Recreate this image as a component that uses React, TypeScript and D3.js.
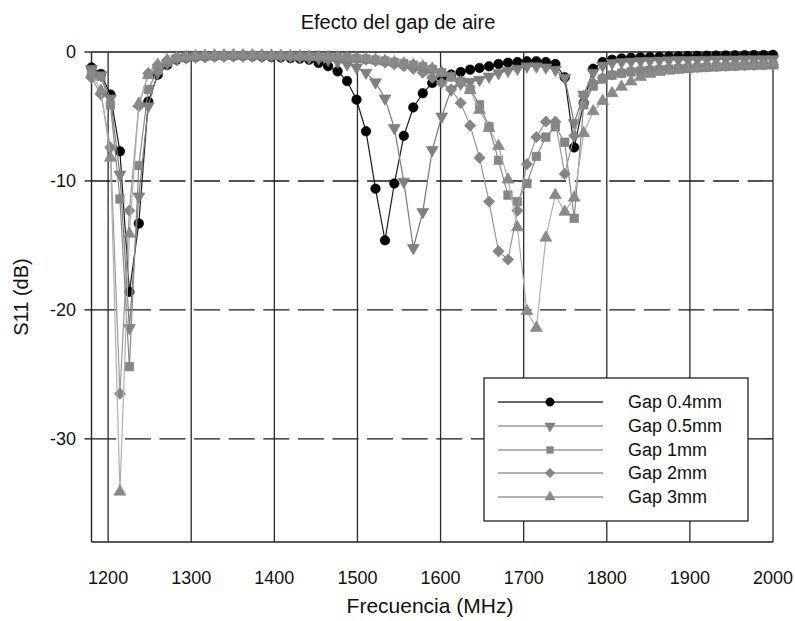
import React from "react";
import * as d3 from "d3";

const freqs = [1180,1191.4,1202.8,1214.2,1225.6,1236.9,1248.3,1259.7,1271.1,1282.5,1293.9,1305.3,1316.7,1328.1,1339.4,1350.8,1362.2,1373.6,1385.0,1396.4,1407.8,1419.2,1430.6,1441.9,1453.3,1464.7,1476.1,1487.5,1498.9,1510.3,1521.7,1533.1,1544.4,1555.8,1567.2,1578.6,1590.0,1601.4,1612.8,1624.2,1635.6,1646.9,1658.3,1669.7,1681.1,1692.5,1703.9,1715.3,1726.7,1738.1,1749.4,1760.8,1772.2,1783.6,1795.0,1806.4,1817.8,1829.2,1840.6,1851.9,1863.3,1874.7,1886.1,1897.5,1908.9,1920.3,1931.7,1943.1,1954.4,1965.8,1977.2,1988.6,2000];

const gap04 = [-1.2,-1.7,-3.3,-7.7,-18.6,-13.3,-3.85,-1.76,-1.0,-0.6,-0.45,-0.38,-0.35,-0.32,-0.3,-0.3,-0.3,-0.32,-0.35,-0.38,-0.42,-0.47,-0.52,-0.6,-0.85,-1.1,-1.5,-2.25,-3.7,-6.15,-10.6,-14.6,-10.2,-6.5,-4.3,-3.2,-2.4,-2.0,-1.75,-1.55,-1.37,-1.24,-1.11,-0.93,-0.83,-0.78,-0.72,-0.72,-0.78,-0.93,-1.96,-7.4,-3.95,-1.3,-0.78,-0.6,-0.5,-0.45,-0.42,-0.4,-0.38,-0.36,-0.34,-0.32,-0.3,-0.29,-0.28,-0.27,-0.26,-0.25,-0.24,-0.23,-0.22];
const gap05 = [-1.3,-1.8,-3.6,-9.5,-21.4,-11.2,-4.2,-1.6,-0.9,-0.55,-0.42,-0.36,-0.33,-0.3,-0.3,-0.28,-0.28,-0.28,-0.3,-0.3,-0.32,-0.35,-0.4,-0.45,-0.5,-0.6,-0.75,-0.95,-1.2,-1.6,-2.35,-3.6,-5.9,-10.05,-15.2,-12.4,-7.6,-5.0,-2.9,-2.45,-2.3,-2.15,-1.9,-1.63,-1.45,-1.29,-1.11,-1.11,-1.19,-1.37,-2.0,-5.5,-3.3,-1.6,-1.05,-0.85,-0.78,-0.74,-0.7,-0.68,-0.66,-0.64,-0.62,-0.61,-0.6,-0.59,-0.58,-0.57,-0.57,-0.56,-0.56,-0.55,-0.55];
const gap1 = [-1.5,-1.9,-4.1,-11.4,-24.4,-8.8,-2.9,-1.4,-0.8,-0.5,-0.4,-0.35,-0.32,-0.3,-0.28,-0.27,-0.27,-0.27,-0.28,-0.29,-0.3,-0.32,-0.34,-0.36,-0.38,-0.4,-0.42,-0.45,-0.5,-0.55,-0.62,-0.7,-0.8,-0.9,-1.02,-1.15,-1.35,-1.6,-1.9,-2.3,-2.9,-4.1,-5.8,-8.4,-11.1,-11.6,-10.2,-8.1,-6.6,-5.8,-7.0,-12.9,-4.1,-2.65,-2.1,-1.8,-1.65,-1.55,-1.48,-1.42,-1.37,-1.33,-1.29,-1.25,-1.21,-1.18,-1.15,-1.12,-1.09,-1.06,-1.04,-1.02,-1.0];
const gap2 = [-2.0,-3.3,-7.4,-26.5,-12.3,-4.2,-1.65,-1.0,-0.65,-0.45,-0.38,-0.33,-0.3,-0.28,-0.27,-0.26,-0.26,-0.26,-0.27,-0.28,-0.3,-0.32,-0.34,-0.36,-0.38,-0.4,-0.42,-0.46,-0.52,-0.6,-0.7,-0.82,-0.95,-1.1,-1.3,-1.6,-2.0,-2.4,-2.9,-3.95,-5.7,-8.2,-11.6,-15.45,-16.1,-12.3,-8.7,-6.6,-5.4,-5.4,-9.45,-6.5,-3.4,-2.4,-2.0,-1.75,-1.6,-1.5,-1.43,-1.37,-1.32,-1.28,-1.24,-1.2,-1.17,-1.14,-1.11,-1.08,-1.05,-1.03,-1.0,-0.98,-0.96];
const gap3 = [-1.7,-3.0,-8.2,-34.1,-14.1,-4.0,-1.8,-1.0,-0.65,-0.45,-0.38,-0.33,-0.3,-0.28,-0.27,-0.26,-0.26,-0.27,-0.28,-0.29,-0.3,-0.32,-0.34,-0.36,-0.38,-0.4,-0.42,-0.45,-0.5,-0.55,-0.62,-0.7,-0.8,-0.9,-1.0,-1.12,-1.3,-1.6,-2.0,-2.35,-2.95,-4.5,-5.9,-7.3,-9.9,-13.6,-20.1,-21.4,-14.4,-11.1,-12.4,-11.3,-6.3,-4.6,-3.8,-3.2,-2.7,-2.3,-1.95,-1.7,-1.55,-1.45,-1.38,-1.32,-1.27,-1.22,-1.18,-1.14,-1.1,-1.06,-1.03,-1.0,-0.97];

const seriesNames = ["Gap 0.4mm", "Gap 0.5mm", "Gap 1mm", "Gap 2mm", "Gap 3mm"];
const xTicks = [1200, 1300, 1400, 1500, 1600, 1700, 1800, 1900, 2000];
const yTicks = [0, -10, -20, -30];

const W = 795, H = 621;
const FONT = "Arial, 'Liberation Sans', Helvetica, sans-serif";

const styles = [
  { line: "#1a1a1a", fill: "#000000", stroke: "#000", type: "circle", size: 72 },
  { line: "#7a7a7a", fill: "#808080", stroke: "#777", type: "tdown", size: 62 },
  { line: "#8a8a8a", fill: "#868686", stroke: "#7c7c7c", type: "square", size: 72 },
  { line: "#9a9a9a", fill: "#858585", stroke: "#7c7c7c", type: "diamond", size: 64 },
  { line: "#b0b0b0", fill: "#8a8a8a", stroke: "#808080", type: "tup", size: 62 },
];

function symPath(type: string, size: number) {
  if (type === "circle") return d3.symbol(d3.symbolCircle, size)()!;
  if (type === "square" || type === "diamond") return d3.symbol(d3.symbolSquare, size)()!;
  return d3.symbol(d3.symbolTriangle, size)()!;
}
function symRot(type: string) {
  if (type === "tdown") return 180;
  if (type === "diamond") return 45;
  return 0;
}

export default function App() {
  const x = d3.scaleLinear().domain([1180, 2000]).range([91.5, 773]);
  const y = d3.scaleLinear().domain([0, -38]).range([52, 542]);
  const data = [gap04, gap05, gap1, gap2, gap3];
  const line = d3.line<number>().x((_, i) => x(freqs[i])).y((v) => y(v));

  const left = x(1180), right = x(2000), top = y(0), bottom = y(-38);

  const legX = 484, legY = 378, legW = 264, legH = 143;
  const rowY = [402, 426, 450, 473, 497];

  return (
    <svg width={W} height={H} style={{ position: "absolute", left: 0, top: 0, background: "#fff" }} fontFamily={FONT}>
      <rect x={0} y={0} width={W} height={H} fill="#fff" />
      <text x={398} y={29} textAnchor="middle" fontSize={20} fill="#111">Efecto del gap de aire</text>

      {xTicks.map((t) => (
        <line key={"vx" + t} x1={x(t)} x2={x(t)} y1={top} y2={bottom} stroke="#2a2a2a" strokeWidth={1.3} />
      ))}
      {yTicks.map((t) => (
        <line key={"hy" + t} x1={left} x2={right} y1={y(t)} y2={y(t)} stroke="#1a1a1a" strokeWidth={1.4}
          strokeDasharray={t === 0 ? undefined : "26 8.6"} strokeDashoffset={1.2} />
      ))}
      <line x1={left} x2={left} y1={top} y2={bottom} stroke="#222" strokeWidth={1.4} />
      <line x1={left} x2={right} y1={bottom} y2={bottom} stroke="#222" strokeWidth={1.4} />
      {yTicks.map((t) => (
        <line key={"yt" + t} x1={left - 7} x2={left} y1={y(t)} y2={y(t)} stroke="#222" strokeWidth={1.4} />
      ))}
      {yTicks.map((t) => (
        <text key={"yl" + t} x={76} y={y(t)} dy="0.35em" textAnchor="end" fontSize={18} fill="#111">{t}</text>
      ))}
      {xTicks.map((t) => (
        <text key={"xl" + t} x={x(t)} y={584} textAnchor="middle" fontSize={18} fill="#111">{t}</text>
      ))}
      <text x={430} y={613} textAnchor="middle" fontSize={21} fill="#111">Frecuencia (MHz)</text>
      <text transform={`translate(28,${(top + bottom) / 2}) rotate(-90)`} textAnchor="middle" fontSize={20} fill="#111">S11 (dB)</text>

      {data.map((vals, si) => (
        <g key={"s" + si}>
          <path d={line(vals)!} fill="none" stroke={styles[si].line} strokeWidth={1.2} />
          {vals.map((v, i) => (
            <path key={i} d={symPath(styles[si].type, styles[si].size)}
              transform={`translate(${x(freqs[i])},${y(v)}) rotate(${symRot(styles[si].type)})`}
              fill={styles[si].fill} stroke={styles[si].stroke} strokeWidth={0.6} />
          ))}
        </g>
      ))}

      <rect x={legX} y={legY} width={legW} height={legH} fill="#fff" stroke="#222" strokeWidth={1.3} />
      {seriesNames.map((n, si) => (
        <g key={"lg" + si}>
          <line x1={498} x2={603} y1={rowY[si]} y2={rowY[si]} stroke={si === 0 ? "#333" : "#999"} strokeWidth={1.3} />
          <path d={symPath(styles[si].type, si === 0 ? 55 : 45)}
            transform={`translate(550,${rowY[si]}) rotate(${symRot(styles[si].type)})`}
            fill={styles[si].fill} stroke={styles[si].stroke} strokeWidth={0.5} />
          <text x={628} y={rowY[si]} dy="0.35em" fontSize={18} fill="#111">{n}</text>
        </g>
      ))}
    </svg>
  );
}
